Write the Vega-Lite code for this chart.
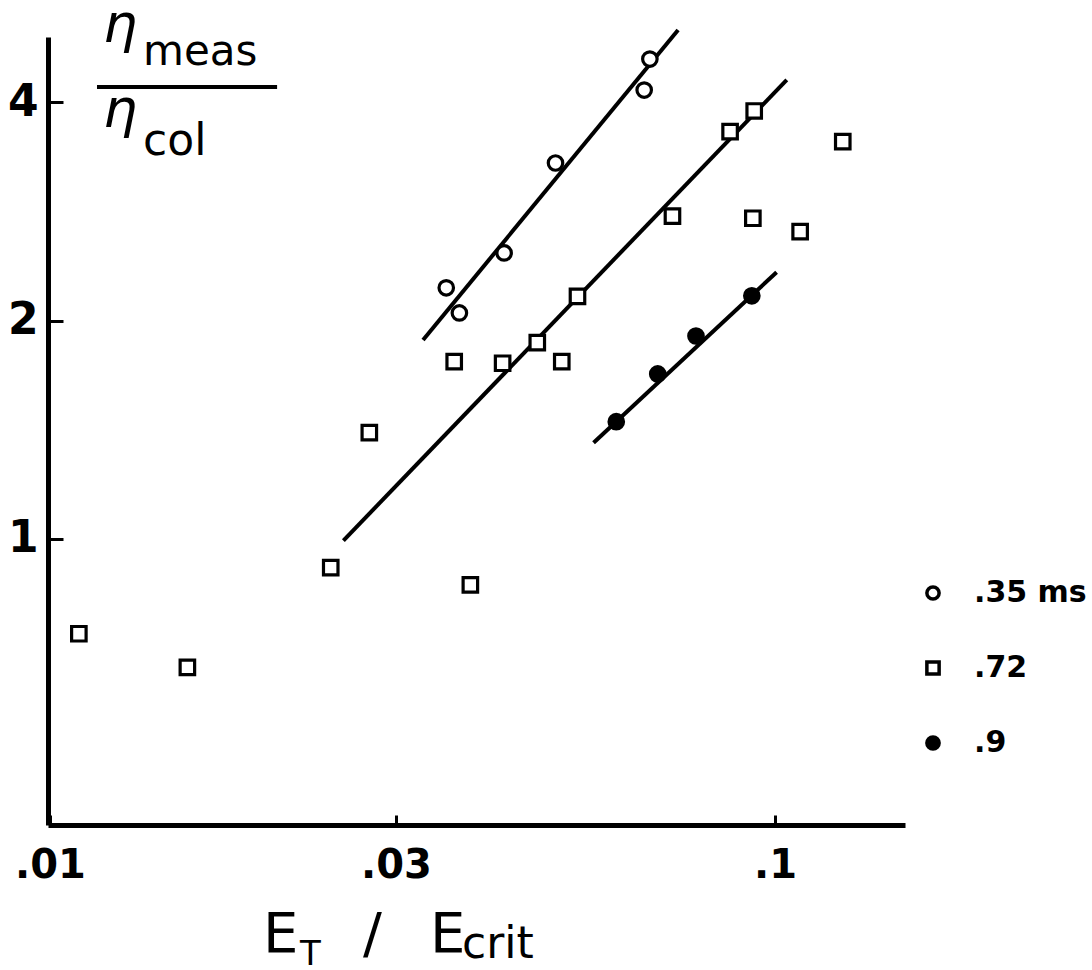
{
  "$schema": "https://vega.github.io/schema/vega-lite/v6.json",
  "width": 857,
  "height": 788,
  "autosize": {"type": "none"},
  "padding": {"left": 48, "top": 37, "right": 187, "bottom": 145},
  "background": "white",
  "config": {
    "view": {"stroke": null},
    "axis": {"grid": false, "domainColor": "black", "tickColor": "black", "labelColor": "black", "labelFont": "DejaVu Sans", "labelFontWeight": "bold"},
    "text": {"font": "DejaVu Sans", "color": "black"}
  },
  "datasets": {
    "pts": [
      {"x": 0.0672, "y": 4.59, "series": ".35 ms"},
      {"x": 0.0660, "y": 4.16, "series": ".35 ms"},
      {"x": 0.0498, "y": 3.30, "series": ".35 ms"},
      {"x": 0.0423, "y": 2.48, "series": ".35 ms"},
      {"x": 0.0352, "y": 2.22, "series": ".35 ms"},
      {"x": 0.0367, "y": 2.05, "series": ".35 ms"},
      {"x": 0.01096, "y": 0.740, "series": ".72"},
      {"x": 0.01547, "y": 0.665, "series": ".72"},
      {"x": 0.02439, "y": 0.913, "series": ".72"},
      {"x": 0.02757, "y": 1.402, "series": ".72"},
      {"x": 0.0361, "y": 1.756, "series": ".72"},
      {"x": 0.0421, "y": 1.747, "series": ".72"},
      {"x": 0.0470, "y": 1.865, "series": ".72"},
      {"x": 0.0508, "y": 1.756, "series": ".72"},
      {"x": 0.0534, "y": 2.161, "series": ".72"},
      {"x": 0.0380, "y": 0.864, "series": ".72"},
      {"x": 0.0722, "y": 2.788, "series": ".72"},
      {"x": 0.0932, "y": 2.769, "series": ".72"},
      {"x": 0.1083, "y": 2.654, "series": ".72"},
      {"x": 0.0867, "y": 3.646, "series": ".72"},
      {"x": 0.0936, "y": 3.893, "series": ".72"},
      {"x": 0.1240, "y": 3.532, "series": ".72"},
      {"x": 0.0604, "y": 1.451, "series": ".9"},
      {"x": 0.0689, "y": 1.689, "series": ".9"},
      {"x": 0.0778, "y": 1.905, "series": ".9"},
      {"x": 0.0929, "y": 2.164, "series": ".9"}
    ],
    "fits": [
      {"x": 0.0327, "y": 1.881, "line": "a"},
      {"x": 0.0735, "y": 5.036, "line": "a"},
      {"x": 0.02539, "y": 0.9946, "line": "b"},
      {"x": 0.1038, "y": 4.297, "line": "b"},
      {"x": 0.0562, "y": 1.357, "line": "c"},
      {"x": 0.1005, "y": 2.333, "line": "c"}
    ],
    "one": [{}]
  },
  "layer": [
    {
      "data": {"name": "fits"},
      "mark": {"type": "line", "color": "black", "strokeWidth": 4, "clip": false},
      "encoding": {
        "x": {"field": "x", "type": "quantitative", "scale": {"type": "log", "domain": [0.009937, 0.1511], "nice": false, "zero": false}},
        "y": {"field": "y", "type": "quantitative", "scale": {"type": "log", "domain": [0.4031, 4.924], "nice": false, "zero": false}},
        "detail": {"field": "line"}
      }
    },
    {
      "data": {"name": "pts"},
      "mark": {"type": "point", "filled": true, "stroke": "black", "strokeWidth": 3.2, "opacity": 1, "size": 210},
      "encoding": {
        "x": {
          "field": "x", "type": "quantitative",
          "scale": {"type": "log", "domain": [0.009937, 0.1511], "nice": false, "zero": false},
          "axis": {
            "title": null, "values": [0.01, 0.03, 0.1],
            "labelExpr": "datum.value < 0.02 ? '.01' : (datum.value < 0.05 ? '.03' : '.1')",
            "labelFontSize": 40, "labelPadding": 30, "labelFlush": false,
            "tickSize": -10, "tickWidth": 3, "domainWidth": 5
          }
        },
        "y": {
          "field": "y", "type": "quantitative",
          "scale": {"type": "log", "domain": [0.4031, 4.924], "nice": false, "zero": false},
          "axis": {
            "title": null, "values": [1, 2, 4],
            "labelFontSize": 44, "labelPadding": 25, "labelFlush": false,
            "tickSize": -15, "tickWidth": 3, "domainWidth": 5
          }
        },
        "shape": {
          "field": "series", "type": "nominal",
          "scale": {"domain": [".35 ms", ".72", ".9"], "range": ["circle", "square", "circle"]},
          "legend": {
            "title": null, "orient": "none", "legendX": 870, "legendY": 541, "direction": "vertical",
            "labelFontSize": 30, "labelFontWeight": "bold", "labelFont": "DejaVu Sans", "labelColor": "black",
            "labelOffset": 26, "rowPadding": 45, "symbolSize": 150, "symbolStrokeWidth": 3.5, "padding": 0,
            "encode": {"symbols": {"update": {
              "stroke": {"value": "black"},
              "strokeWidth": {"value": 3.5},
              "size": {"signal": "datum.value === '.35 ms' ? 110 : (datum.value === '.72' ? 170 : 240)"}
            }}}
          }
        },
        "fill": {
          "field": "series", "type": "nominal",
          "scale": {"domain": [".35 ms", ".72", ".9"], "range": ["white", "white", "black"]},
          "legend": {
            "title": null, "orient": "none", "legendX": 870, "legendY": 541, "direction": "vertical",
            "labelFontSize": 30, "labelFontWeight": "bold", "labelFont": "DejaVu Sans", "labelColor": "black",
            "labelOffset": 26, "rowPadding": 45, "symbolSize": 150, "symbolStrokeWidth": 3.5, "padding": 0,
            "encode": {"symbols": {"update": {
              "stroke": {"value": "black"},
              "strokeWidth": {"value": 3.5},
              "size": {"signal": "datum.value === '.35 ms' ? 110 : (datum.value === '.72' ? 170 : 240)"}
            }}}
          }
        }
      }
    },
    {
      "data": {"name": "one"},
      "mark": {"type": "text", "text": "η", "fontSize": 54, "fontStyle": "italic", "align": "left", "baseline": "alphabetic"},
      "encoding": {"x": {"datum": 0.01183, "type": "quantitative"}, "y": {"datum": 4.85, "type": "quantitative"}}
    },
    {
      "data": {"name": "one"},
      "mark": {"type": "text", "text": "meas", "fontSize": 42, "align": "left", "baseline": "alphabetic"},
      "encoding": {"x": {"datum": 0.01344, "type": "quantitative"}, "y": {"datum": 4.507, "type": "quantitative"}}
    },
    {
      "data": {"name": "one"},
      "mark": {"type": "rule", "strokeWidth": 4, "color": "black"},
      "encoding": {"x": {"datum": 0.01161, "type": "quantitative"}, "x2": {"datum": 0.02057}, "y": {"datum": 4.202, "type": "quantitative"}}
    },
    {
      "data": {"name": "one"},
      "mark": {"type": "text", "text": "η", "fontSize": 54, "fontStyle": "italic", "align": "left", "baseline": "alphabetic"},
      "encoding": {"x": {"datum": 0.01183, "type": "quantitative"}, "y": {"datum": 3.70, "type": "quantitative"}}
    },
    {
      "data": {"name": "one"},
      "mark": {"type": "text", "text": "col", "fontSize": 44, "align": "left", "baseline": "alphabetic"},
      "encoding": {"x": {"datum": 0.01344, "type": "quantitative"}, "y": {"datum": 3.385, "type": "quantitative"}}
    },
    {
      "data": {"name": "one"},
      "mark": {"type": "text", "text": "E", "fontSize": 56, "align": "left", "baseline": "alphabetic"},
      "encoding": {"x": {"datum": 0.01967, "type": "quantitative"}, "y": {"datum": 0.2693, "type": "quantitative"}}
    },
    {
      "data": {"name": "one"},
      "mark": {"type": "text", "text": "T", "fontSize": 34, "align": "left", "baseline": "alphabetic"},
      "encoding": {"x": {"datum": 0.02212, "type": "quantitative"}, "y": {"datum": 0.2585, "type": "quantitative"}}
    },
    {
      "data": {"name": "one"},
      "mark": {"type": "text", "text": "/", "fontSize": 56, "align": "left", "baseline": "alphabetic"},
      "encoding": {"x": {"datum": 0.02702, "type": "quantitative"}, "y": {"datum": 0.2693, "type": "quantitative"}}
    },
    {
      "data": {"name": "one"},
      "mark": {"type": "text", "text": "E", "fontSize": 56, "align": "left", "baseline": "alphabetic"},
      "encoding": {"x": {"datum": 0.03343, "type": "quantitative"}, "y": {"datum": 0.2693, "type": "quantitative"}}
    },
    {
      "data": {"name": "one"},
      "mark": {"type": "text", "text": "crit", "fontSize": 44, "align": "left", "baseline": "alphabetic"},
      "encoding": {"x": {"datum": 0.03701, "type": "quantitative"}, "y": {"datum": 0.2642, "type": "quantitative"}}
    }
  ]
}
